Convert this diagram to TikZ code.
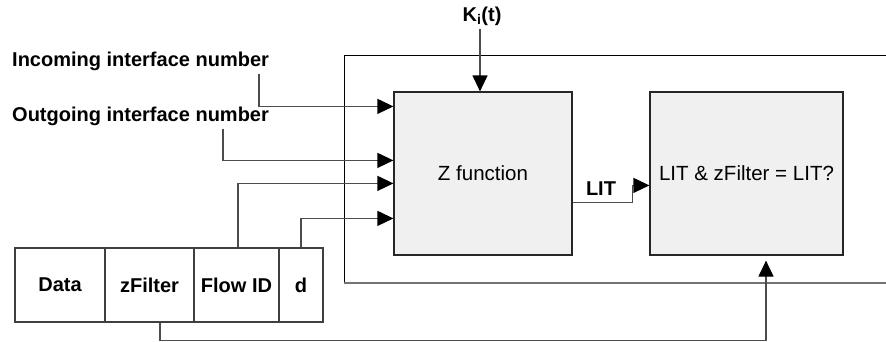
\documentclass[tikz,border=0pt]{standalone}
\usepackage{fontspec}
\setmainfont{Liberation Sans}
\usetikzlibrary{arrows.meta,calc}
\begin{document}
\begin{tikzpicture}[x=1pt,y=-1pt,
  font=\fontsize{20.5}{24}\selectfont,
  box/.style={draw=black!85, line width=1.2pt, fill=black!6, inner sep=0pt},
  cell/.style={draw=black!75, line width=1.2pt, minimum height=74pt, inner sep=0pt, font=\fontsize{20}{24}\selectfont\bfseries},
  lbl/.style={inner sep=0pt, font=\fontsize{20}{24}\selectfont\bfseries},
  conn/.style={draw=black!70, line width=1.2pt, -{Triangle[length=16pt,width=15pt,color=black]}},
]
\useasboundingbox (0,0) rectangle (886,341);
% outer (open) frame
\draw[line width=1pt] (886,55) -- (344,55) -- (344,283);
\draw[line width=1.6pt, black!55] (344,283) -- (886,283);
% function boxes
\node[box, minimum width=178pt, minimum height=163pt] (Z) at (483,173.5) {Z function};
\node[box, minimum width=193pt, minimum height=163pt] (T) at (746.5,173.5) {LIT \& zFilter = LIT?};
% packet
\node[cell, minimum width=90pt] (data) at (60,285) {Data};
\node[cell, minimum width=89pt] (zf) at (149.5,285) {zFilter};
\node[cell, minimum width=85pt] (fid) at (236.5,285) {Flow ID};
\node[cell, minimum width=44pt] (d) at (301,285) {d};
% labels
\node[lbl, anchor=west] (inc) at (12,61) {Incoming interface number};
\node[lbl, anchor=west] (out) at (12,116) {Outgoing interface number};
\node[lbl] (K) at (482,16) {K\textsubscript{i}(t)};
\node[lbl] (lit) at (601,189) {LIT};
% connectors
\draw[conn] ([xshift=247pt,yshift=-3pt]inc.south west) |- ([yshift=-15pt]Z.north west);
\draw[conn] ([xshift=211pt,yshift=-3pt]out.south west) |- ([yshift=-69pt]Z.north west);
\draw[conn] ([xshift=1.5pt]fid.north) |- ([yshift=-92pt]Z.north west);
\draw[conn] (d.north) |- ([yshift=-127pt]Z.north west);
\draw[conn] ([xshift=-2pt,yshift=-3pt]K.south) -- ([xshift=-2pt]K.south |- Z.north);
\draw[conn] ([yshift=-111pt]Z.north east) -- ++(60,0) |- ([yshift=-94pt]T.north west);
\draw[conn] ([xshift=10.5pt]zf.south) -- ++(0,18) -| ([xshift=19.5pt,yshift=-5pt]T.south);
\end{tikzpicture}
\end{document}
